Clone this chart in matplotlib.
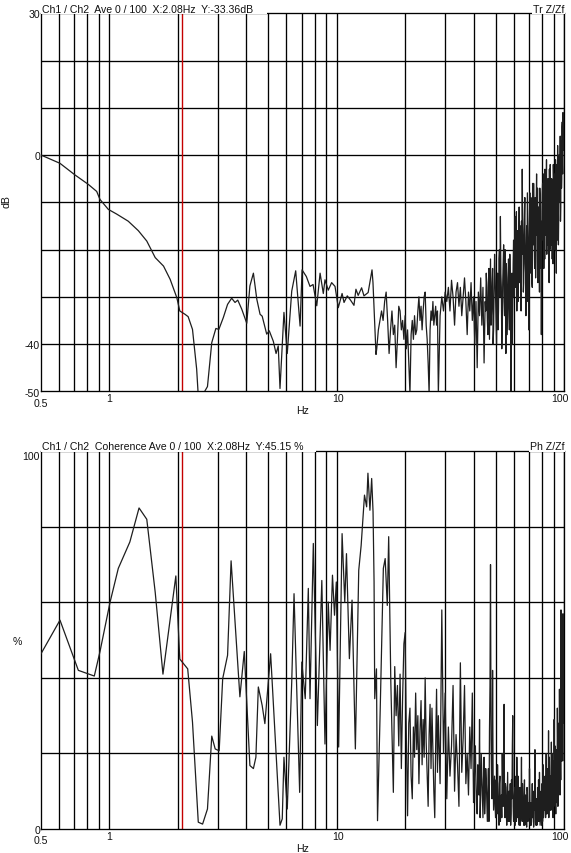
import numpy as np
import matplotlib
matplotlib.use("Agg")
import matplotlib.pyplot as plt
from matplotlib.patches import Rectangle

plt.rcParams['font.family'] = ['Liberation Sans', 'DejaVu Sans']

# ---------------- data: transfer function (dB) ----------------
tr_freq_lo = [0.5, 0.606, 0.705, 0.807, 0.879, 0.909, 0.989, 1.077, 1.21, 1.34, 1.46, 1.59, 1.73, 1.85,
              1.98, 2.04, 2.15, 2.22, 2.32, 2.42, 2.46, 2.59, 2.70, 2.82, 2.94, 3.03, 3.17, 3.31, 3.45,
              3.57, 3.67, 3.82, 4.02, 4.15, 4.30, 4.45, 4.60, 4.70, 4.92, 5.05, 5.26, 5.41, 5.53, 5.63,
              5.86, 6.06, 6.34, 6.60, 6.90, 7.04, 7.35, 7.63, 7.87, 8.17, 8.45, 8.73, 8.88, 9.18, 9.50,
              9.83, 10.16, 10.56, 10.77, 11.13, 11.50, 11.91, 12.15, 12.43, 12.87, 13.18, 13.75, 14.30,
              14.44, 14.89]
tr_db_lo = [0.0, -1.75, -4.2, -6.2, -7.7, -9.4, -11.5, -12.5, -14.0, -16.0, -18.2, -21.7, -23.5, -26.3,
            -30.2, -33.0, -33.7, -34.2, -36.9, -45.3, -51.0, -50.5, -49.0, -39.7, -36.7, -36.9, -34.4,
            -31.6, -30.3, -31.2, -30.7, -32.6, -35.6, -27.7, -25.0, -30.5, -33.7, -34.1, -37.9, -37.2,
            -39.4, -42.0, -40.4, -49.4, -33.3, -42.0, -28.8, -24.5, -36.2, -24.3, -25.7, -27.8, -27.4,
            -31.9, -25.0, -29.3, -26.4, -28.6, -27.0, -27.8, -32.3, -29.3, -31.2, -29.8, -30.7, -31.8,
            -28.4, -29.7, -28.1, -29.8, -29.1, -24.3, -27.0, -42.2]
# 15 Hz .. in 0.25 Hz steps
tr_db_mid = [-41, -37, -35, -33, -35, -31, -29, -35, -42, -37, -33, -38, -36, -45, -39, -32, -33, -37,
             -35, -39, -34, -41, -37, -44, -50.5, -38, -35, -39, -34, -38, -37, -33, -30, -35, -32, -37,
             -33, -30, -29, -36, -39, -44, -50.5, -37, -33, -35, -31, -36, -34, -32, -36, -33]
# 28 Hz .. 100 Hz in 0.5 Hz steps
tr_db_hi = [-50.5, -34, -30, -33, -29, -31, -28, -33, -26.5, -30, -36, -29, -27, -32, -28, -34, -30, -26,
            -31, -38, -29, -33, -27, -35, -30, -40, -31, -45, -29, -34, -26, -36, -28, -44, -31, -25, -35,
            -27, -39, -22, -33, -24, -37, -21, -30, -40, -25, -33, -20, -13, -28, -36, -23, -31, -20, -42,
            -26, -33, -22, -37, -28, -50.5, -25, -31, -18, -27, -13, -24, -33, -16, -25, -11, -22, -30,
            -14, -3, -19, -27, -12, -23, -34, -15, -8, -21, -37, -13, -25, -9, -18, -28, -11, -6, -20,
            -14, -26, -10, -17, -7, -22, -15, -29, -9, -19, -38, -12, -6, -17, -24, -10, -3, -15, -8, -21,
            -12, -5, -16, -27, -9, -2, -13, -19, -7, -14, -23, -6, -11, -4, -17, -9, -25, -2, -12, -6,
            -19, 0, -10, -4, -14, 3, -7, 6, -2, 9, 2, 5]
# 45.25 Hz .. 99.75 Hz in 0.5 Hz steps (in-between bins)
tr_db_hi2 = [-33, -28, -38, -24, -31, -36, -27, -40, -29, -25, -34, -28, -37, -22, -30, -25, -41, -27,
             -19, -34, -29, -23, -38, -27, -31, -21, -35, -28, -40, -23, -30, -20, -28, -12, -26, -31,
             -19, -27, -15, -33, -21, -13, -29, -17, -9, -25, -20, -31, -14, -26, -18, -8, -22, -15, -27,
             -6, -19, -13, -24, -9, -21, -4, -16, -27, -11, -20, -7, -24, -14, -20, -8, -18, -4, -14, -22,
             -9, -17, -1, -11, -19, -7, -12, -3, -20, -10, -16, -5, -22, -9, -2, -15, -7, -20, -1, -13,
             -5, -18, 2, -9, -14, -3, -8, 4, -11, -1, -5, 7, -4, 3, 1]

# ---------------- data: coherence (%) ----------------
co_freq_lo = [0.5, 0.606, 0.73, 0.858, 0.909, 1.006, 1.094, 1.23, 1.35, 1.46, 1.59, 1.72, 1.96, 2.04,
              2.21, 2.32, 2.46, 2.57, 2.70, 2.82, 2.92, 3.04, 3.15, 3.31, 3.43, 3.75, 3.92, 4.15, 4.30,
              4.41, 4.52, 4.70, 4.83, 5.12, 5.44, 5.63, 5.76, 5.86, 6.06, 6.34, 6.49, 6.87, 7.02, 7.27,
              7.50, 7.63, 7.89, 8.22, 8.60, 8.88, 9.18, 9.35, 9.58, 9.78, 9.96, 10.20, 10.56, 10.85,
              11.04, 11.37, 11.68, 12.08, 12.50, 12.81, 13.25, 13.54, 13.72, 14.00, 14.25, 14.45, 14.60,
              14.70, 14.96, 15.12, 15.54, 16.04, 16.34, 16.69, 16.93, 17.30]
co_pct_lo = [46.4, 55.3, 42.0, 40.5, 47.0, 60.0, 69.0, 76.0, 85.0, 82.0, 62.7, 41.0, 67.0, 45.0, 42.4,
             28.3, 1.8, 1.3, 5.3, 24.6, 21.2, 20.7, 39.8, 46.0, 71.0, 35.0, 47.0, 16.8, 16.0, 19.0, 37.6,
             32.7, 27.9, 46.4, 17.7, 1.0, 2.7, 19.0, 5.3, 38.9, 62.3, 9.7, 44.2, 34.5, 63.7, 34.5, 75.6,
             27.4, 65.8, 22.5, 60.1, 47.3, 67.2, 56.6, 65.4, 21.7, 78.2, 60.1, 72.9, 45.1, 60.6, 21.2,
             68.5, 75.1, 88.4, 85.3, 94.2, 84.4, 92.8, 84.0, 65.4, 34.5, 42.4, 2.2, 31.8, 69.0, 71.6,
             59.2, 77.4, 38.9]
# 17.75 Hz .. in 0.25 Hz steps
co_pct_mid = [9.7, 43, 30, 38, 22, 41, 16, 35, 49, 52, 24, 3.5, 28, 32, 14, 8, 27, 19, 36, 21, 30, 12,
              26, 34, 17, 29, 19, 40, 23, 14, 6, 25, 33, 16, 32, 21, 10, 3, 22, 37, 15]
# 28 Hz .. 100 Hz in 0.5 Hz steps
co_pct_hi = [30, 12, 58, 20, 36, 8, 27, 14, 22, 38, 10, 25, 17, 6, 44, 15, 24, 38, 12, 20, 9, 27, 16, 36,
             7, 18, 12, 4, 15, 29, 9, 14, 3, 19, 8, 13, 2, 16, 26, 70, 12, 42, 5, 14, 3, 10, 17, 4, 12, 2,
             9, 20, 6, 33, 3, 11, 1, 15, 6, 2, 12, 4, 8, 30, 2, 9, 1, 14, 19, 3, 7, 1, 11, 4, 19, 2, 8, 1,
             13, 3, 6, 0.5, 10, 2, 5, 16, 1, 7, 2, 12, 4, 0.5, 9, 21, 3, 6, 1, 11, 2, 8, 15, 1, 6, 3, 12,
             2, 17, 5, 9, 14, 3, 20, 7, 12, 4, 26, 9, 15, 5, 11, 23, 6, 13, 3, 18, 29, 8, 14, 4, 21, 10,
             32, 6, 17, 12, 37, 9, 24, 58, 18, 31, 45, 57, 28, 50]
# 40.25 Hz .. 99.75 Hz in 0.5 Hz steps (in-between bins)
co_pct_hi2 = [11, 22, 6, 17, 9, 3, 20, 8, 13, 4, 16, 7, 10, 2, 38, 24, 8, 15, 10, 6,
              13, 4, 9, 1, 14, 6, 3, 11, 17, 7, 12, 4, 8, 2, 10, 5, 1, 13, 22, 6,
              4, 11, 6, 2, 9, 14, 3, 7, 1, 9, 5, 12, 3, 6, 1, 9, 4, 11, 2, 7,
              3, 9, 4, 1, 6, 3, 10, 2, 5, 12, 1, 8, 3, 6, 13, 2, 7, 4, 10, 1,
              6, 9, 3, 11, 5, 8, 12, 4, 16, 6, 10, 3, 19, 8, 14, 5, 12, 20, 9, 15,
              6, 13, 22, 9, 17, 7, 14, 24, 11, 28, 15, 21, 33, 13, 40, 25, 36, 18, 52, 42]

x_tick_labels = ["0.5", "1", "10", "100"]
x_tick_values = [0.5, 1, 10, 100]
grid_freqs = [0.6, 0.7, 0.8, 0.9, 1, 2, 3, 4, 5, 6, 7, 8, 9, 10, 20, 30, 40, 50, 60, 70, 80, 90, 100]
cursor_hz = 2.08


def merge(freq_parts, val_parts):
    f = np.concatenate(freq_parts)
    v = np.concatenate(val_parts)
    order = np.argsort(f, kind="stable")
    return f[order], v[order]


tr_freq, tr_db = merge(
    [tr_freq_lo, 15.0 + 0.25 * np.arange(len(tr_db_mid)), 28.0 + 0.5 * np.arange(len(tr_db_hi)),
     45.25 + 0.5 * np.arange(len(tr_db_hi2))],
    [tr_db_lo, tr_db_mid, tr_db_hi, tr_db_hi2])
co_freq, co_pct = merge(
    [co_freq_lo, 17.75 + 0.25 * np.arange(len(co_pct_mid)), 28.0 + 0.5 * np.arange(len(co_pct_hi)),
     40.25 + 0.5 * np.arange(len(co_pct_hi2))],
    [co_pct_lo, co_pct_mid, co_pct_hi, co_pct_hi2])

# ---------------- figure ----------------
W, H = 571, 854
fig = plt.figure(figsize=(W / 100, H / 100), dpi=100)
FS = 7.6


def add_ax(left, top, right, bottom):
    return fig.add_axes([left / W, 1 - bottom / H, (right - left) / W, (bottom - top) / H])


def ptext(x, y, s, ha="left", **kw):
    fig.text(x / W, 1 - y / H, s, ha=ha, va="baseline", fontsize=FS, color="#111111", **kw)


def mask(x0, x1, y0, y1):
    fig.add_artist(Rectangle((x0 / W, 1 - y1 / H), (x1 - x0) / W, (y1 - y0) / H,
                             transform=fig.transFigure, facecolor="white", edgecolor="none",
                             zorder=10))


def style(ax, ylo, yhi, hlines):
    ax.set_xscale("log")
    ax.set_xlim(0.5, 100)
    ax.set_ylim(ylo, yhi)
    for f in grid_freqs:
        ax.axvline(f, color="black", lw=0.95, zorder=1)
    for h in hlines:
        ax.axhline(h, color="black", lw=0.95, zorder=1)
    ax.axvline(cursor_hz, color="#c40000", lw=1.0, zorder=2)
    for sp in ax.spines.values():
        sp.set_color("black")
        sp.set_linewidth(0.95)
    ax.set_xticks([])
    ax.set_yticks([])
    ax.minorticks_off()
    ax.tick_params(which="both", length=0, labelbottom=False, labelleft=False)


ax1 = add_ax(41, 14.3, 564, 392.3)
style(ax1, -50, 30, [-40, -30, -20, -10, 0, 10, 20])
ax1.plot(tr_freq, tr_db, color="#1e1e1e", lw=0.9, zorder=3)

ax2 = add_ax(41, 452.3, 564, 830)
style(ax2, 0, 100, [20, 40, 60, 80])
ax2.plot(co_freq, co_pct, color="#1e1e1e", lw=0.9, zorder=3)

# white masks behind header texts (cover frame line)
mask(40.5, 267, 3, 15.4)
mask(531.5, 565, 3, 15.4)
mask(40.5, 316, 441, 453.4)
mask(529, 565, 441, 453.4)

# header texts
for y0, left_s, right_s in [(12.7, "Ch1 / Ch2  Ave 0 / 100  X:2.08Hz  Y:-33.36dB", "Tr Z/Zf"),
                            (450.0, "Ch1 / Ch2  Coherence Ave 0 / 100  X:2.08Hz  Y:45.15 %", "Ph Z/Zf")]:
    fig.text(41.5 / W, 1 - y0 / H, left_s, ha="left", va="baseline", fontsize=FS,
             color="#111111", zorder=11)
    fig.text(564 / W, 1 - y0 / H, right_s, ha="right", va="baseline", fontsize=FS,
             color="#111111", zorder=11)

# y tick labels
ptext(40, 17.8, "30", ha="right")
ptext(40, 159.6, "0", ha="right")
ptext(40, 348.8, "-40", ha="right")
ptext(40, 396.8, "-50", ha="right")
ptext(40, 459.8, "100", ha="right")
ptext(40, 834.3, "0", ha="right")

# x tick labels
x_pos = {0.5: 41, 1: 109.5, 10: 338, 100: 560}
for base in [392.3, 830]:
    for lab, v in zip(x_tick_labels, x_tick_values):
        yy = base + (14.5 if v == 0.5 else 10.2)
        ptext(x_pos[v], yy, lab, ha="center")
    ptext(303, base + 22, "Hz", ha="center")

# axis labels
fig.text(6 / W, 1 - 202 / H, "dB", ha="center", va="center", rotation=90, fontsize=FS,
         color="#111111")
ptext(17.5, 644.8, "%", ha="center")

fig.savefig("out.png", dpi=100, facecolor="white")
